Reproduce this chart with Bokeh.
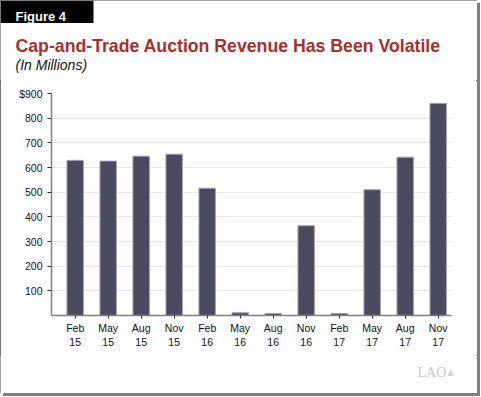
from bokeh.plotting import figure
from bokeh.layouts import column
from bokeh.models import Range1d, FixedTicker
from bokeh.core.properties import value
from bokeh.embed import file_html
from bokeh.resources import INLINE

# ---- data ----
months = ["Feb", "May", "Aug", "Nov", "Feb", "May", "Aug", "Nov", "Feb", "May", "Aug", "Nov"]
years = ["15", "15", "15", "15", "16", "16", "16", "16", "17", "17", "17", "17"]
revenue = [629, 626, 646, 654, 516, 11, 8, 364, 8, 510, 642, 860]
y_ticks = [100, 200, 300, 400, 500, 600, 700, 800, 900]
y_labels = {900: "$900"}

fig_label = "Figure 4"
title = "Cap-and-Trade Auction Revenue Has Been Volatile"
subtitle = "(In Millions)"
logo = "LAO"

W = 477          # width of the framed panel
HEAD_H, FOOT_H = 80, 38
CHART_H = 275    # chart canvas runs from y=80 to y=355
idx = list(range(len(revenue)))
FONT = value("Liberation Sans")


def blank(h):
    f = figure(width=W, height=h, output_backend="svg", toolbar_location=None,
               x_range=Range1d(0, W), y_range=Range1d(h, 0),
               x_axis_location=None, y_axis_location=None, min_border=0,
               background_fill_color="white", border_fill_color="white",
               frame_align=False)
    f.grid.visible = False
    f.outline_line_color = None
    return f


# ---- header ----
head = blank(HEAD_H)
head.quad(left=0, right=93, top=0, bottom=22.5, fill_color="black", line_color=None)
head.text(x=[15], y=[15.7], text=[fig_label], text_font=FONT, text_font_style="bold",
          text_font_size="13px", text_color="white", text_baseline="alphabetic")
head.text(x=[15], y=[45.7], text=[title], text_font=FONT, text_font_style="bold",
          text_font_size="17.7px", text_color="#a8302a", text_baseline="alphabetic")
head.text(x=[15], y=[64.3], text=[subtitle], text_font=FONT, text_font_style="italic",
          text_font_size="14px", text_color="#111111", text_baseline="alphabetic")

# ---- chart ----
p = figure(width=W, height=CHART_H, output_backend="svg", toolbar_location=None,
           x_range=Range1d(-0.718, 11.403), y_range=Range1d(0, 900),
           min_border_left=51, min_border_right=26, min_border_top=13,
           min_border_bottom=40, background_fill_color="white",
           border_fill_color="white", frame_align=False)
p.outline_line_color = None

p.vbar(x=idx, top=revenue, width=0.5, fill_color="#4b4b5f",
       line_color="#a4a2b4", line_width=1)

p.xaxis.ticker = FixedTicker(ticks=idx)
p.xaxis.major_label_overrides = {i: f"{m}\n{y}" for i, (m, y) in enumerate(zip(months, years))}
p.xaxis.major_tick_out = 3
p.xaxis.major_tick_in = 0
p.xaxis.minor_tick_line_color = None
p.xaxis.axis_line_color = "#808080"
p.xaxis.axis_line_width = 1.5
p.xaxis.major_tick_line_color = "#333333"
p.xaxis.major_label_standoff = 3
p.xaxis.major_label_text_font = "Liberation Sans"
p.xaxis.major_label_text_font_size = "10.5px"
p.xaxis.major_label_text_color = "#111111"

p.yaxis.ticker = FixedTicker(ticks=y_ticks)
p.yaxis.major_label_overrides = y_labels
p.yaxis.major_tick_out = 4
p.yaxis.major_tick_in = 0
p.yaxis.minor_tick_line_color = None
p.yaxis.axis_line_color = "#808080"
p.yaxis.axis_line_width = 1.5
p.yaxis.major_tick_line_color = "#333333"
p.yaxis.major_label_standoff = 5
p.yaxis.major_label_text_font = "Liberation Sans"
p.yaxis.major_label_text_font_size = "10.5px"
p.yaxis.major_label_text_color = "#111111"

p.xgrid.visible = False
p.ygrid.ticker = FixedTicker(ticks=y_ticks)
p.ygrid.grid_line_color = "#e8e8e8"
p.ygrid.grid_line_width = 1

# ---- footer ----
foot = blank(FOOT_H)
foot.text(x=[417], y=[17], text=[logo], text_font=value("Liberation Serif"),
          text_font_size="14px", text_color="#c8c8c8", text_baseline="alphabetic")
foot.text(x=[447], y=[17], text=["\u25b2"], text_font=value("DejaVu Sans"),
          text_font_size="8px", text_color="#d0d0d0", text_baseline="alphabetic")

layout = column(head, p, foot, spacing=0,
                styles={"outline": "1.5px solid #4a4a4a", "outline-offset": "-1.5px",
                        "box-shadow": "3px 3px 0 #808080"})

open("out.html", "w").write(file_html(layout, INLINE))
